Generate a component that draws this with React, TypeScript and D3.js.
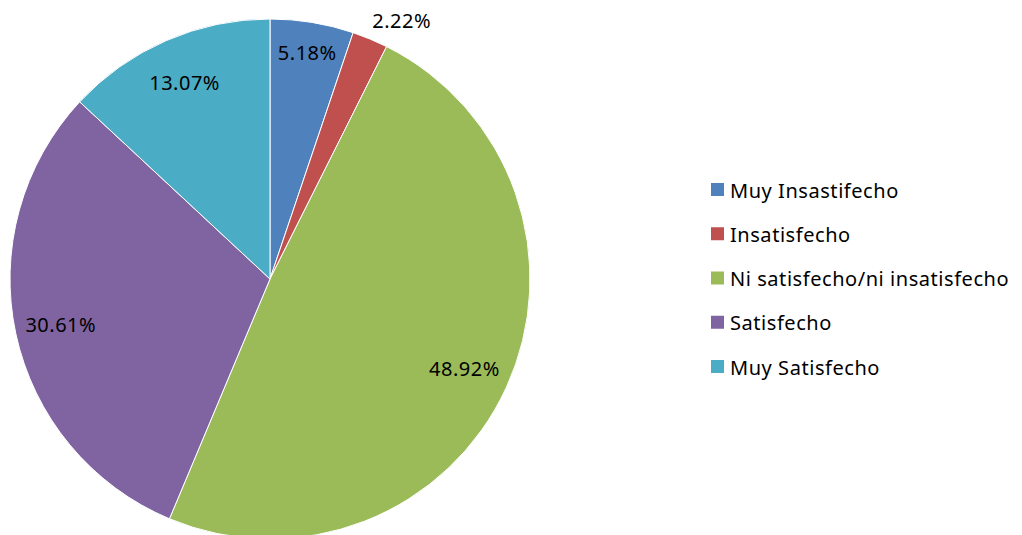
import { useMemo } from 'react';
import * as d3 from 'd3';

const categories = ['Muy Insastifecho', 'Insatisfecho', 'Ni satisfecho/ni insatisfecho', 'Satisfecho', 'Muy Satisfecho'];
const values = [5.18, 2.22, 48.92, 30.61, 13.07];
const colors = ['#4F81BD', '#C0504D', '#9BBB59', '#8064A2', '#4BACC6'];

const W = 1022;
const H = 535;
const CX = 270;
const CY = 279;
const R = 260;
const FONT = '"Noto Sans", "Open Sans", sans-serif';

export default function App() {
  const arcs = useMemo(function () {
    const pie = d3.pie<number>().sort(null).value(function (d) { return d; });
    return pie(values);
  }, []);

  const arc = d3.arc<d3.PieArcDatum<number>>().innerRadius(0).outerRadius(R);
  // label radius: narrow first slice pushes its label further out, tiny slice sits outside
  function labelPos(a: d3.PieArcDatum<number>, i: number) {
    const small = values[i] < 3;
    const r = small ? 290 : i === 0 ? 230 : 214;
    const c = d3.arc<d3.PieArcDatum<number>>().innerRadius(r).outerRadius(r).centroid(a);
    return small ? [c[0] + 20, c[1] + 9] : c;
  }

  const legendY = d3.scalePoint<string>().domain(categories).range([190, 367]);

  return (
    <svg width={W} height={H} style={{ position: 'absolute', left: 0, top: 0, background: '#fff' }}>
      <g transform={'translate(' + CX + ',' + CY + ')'}>
        {arcs.map(function (a, i) {
          return <path key={i} d={arc(a) || ''} fill={colors[i]} stroke="#fff" strokeWidth={1} />;
        })}
        {arcs.map(function (a, i) {
          const c = labelPos(a, i);
          return (
            <text key={'l' + i} x={c[0]} y={c[1]} textAnchor="middle" dominantBaseline="central"
              fontFamily={FONT} fontSize={20} letterSpacing={0.5} fill="#000">
              {values[i].toFixed(2) + '%'}
            </text>
          );
        })}
      </g>
      <g>
        {categories.map(function (c, i) {
          const y = legendY(c) || 0;
          return (
            <g key={c}>
              <rect x={711} y={y - 7} width={13} height={13} fill={colors[i]} />
              <text x={730} y={y} dominantBaseline="central" fontFamily={FONT} fontSize={20}
                letterSpacing={0.55} fill="#000">{c}</text>
            </g>
          );
        })}
      </g>
    </svg>
  );
}
